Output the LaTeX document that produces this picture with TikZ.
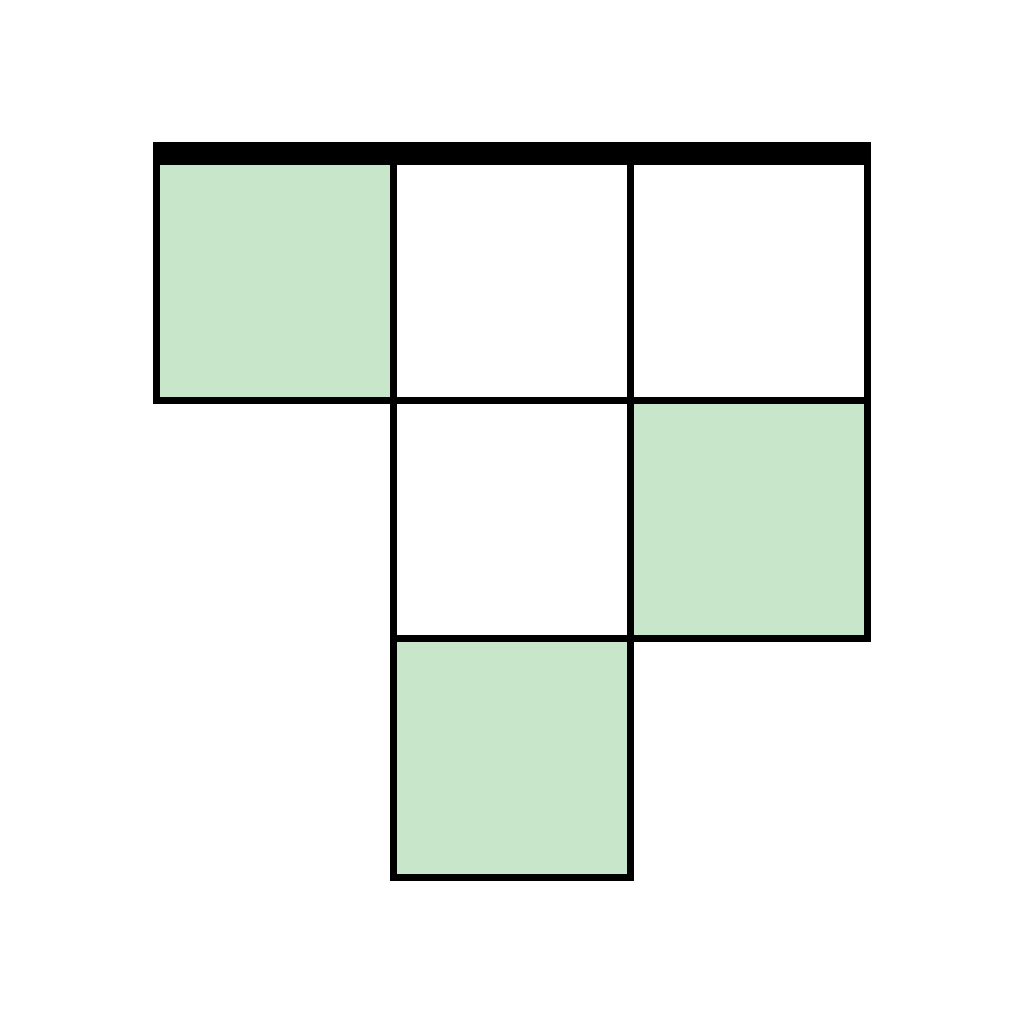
\documentclass[tikz,border=0pt]{standalone}
\definecolor{cellgreen}{HTML}{C8E6C9}
\tikzset{
  cell/.style={draw=black, line width=7pt, rectangle, minimum width=237pt, minimum height=238.5pt, inner sep=0pt, outer sep=0pt},
  filled/.style={cell, fill=cellgreen},
  empty/.style={cell, fill=white},
}
\begin{document}
\begin{tikzpicture}[x=1pt,y=-1pt]
\useasboundingbox (0,0) rectangle (1024,1024);
\fill[white] (0,0) rectangle (1024,1024);
% row 1
\node[filled] (c11) at (275,281) {};
\node[empty]  (c12) at (512,281) {};
\node[empty]  (c13) at (749,281) {};
% row 2
\node[empty]  (c22) at (512,519.5) {};
\node[filled] (c23) at (749,519.5) {};
% row 3
\node[filled] (c32) at (512,758) {};
% top bar
\fill[black] (153,142) rectangle (871,158);
\end{tikzpicture}
\end{document}
